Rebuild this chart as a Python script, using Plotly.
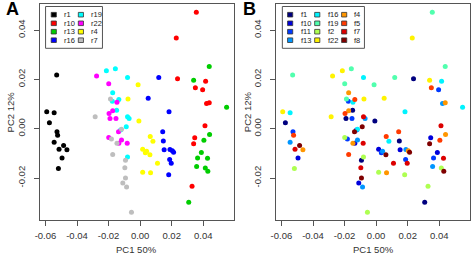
import plotly.graph_objects as go

# ---------------- data ----------------
regions = ["r1", "r10", "r13", "r16", "r19", "r22", "r4", "r7"]
region_colors = ["#000000", "#FF0000", "#00CD00", "#0000FF",
                 "#00FFFF", "#FF00FF", "#FFFF00", "#BEBEBE"]
fractions = ["f1", "f10", "f11", "f13", "f16", "f19", "f2", "f22", "f4", "f5", "f7", "f8"]
fraction_colors = ["#00007F", "#0000DC", "#003AFF", "#0096FF", "#00F3FF", "#51FFAE",
                   "#AEFF51", "#FFF300", "#FF9600", "#FF3A00", "#DC0000", "#7F0000"]

sample_region = (["r1"] * 12 + ["r22"] * 12 + ["r19"] * 12 + ["r7"] * 12 +
                 ["r4"] * 12 + ["r16"] * 12 + ["r10"] * 12 + ["r13"] * 12)

pc1 = [
    -0.0529, -0.0592, -0.0545, -0.0575, -0.0527, -0.0523, -0.0545, -0.0485, -0.0514, -0.0464, -0.0495, -0.0518,
    -0.0276, -0.0199, -0.0147, -0.0174, -0.0197, -0.0191, -0.0153, -0.0137, -0.0199, -0.0118, -0.0135, -0.0082,
    -0.0214, -0.0157, -0.0080, -0.0174, -0.0135, -0.0176, -0.0149, -0.0080, -0.0070, -0.0088, -0.0080, -0.0124,
    -0.0188, -0.0285, -0.0118, -0.0182, -0.0147, -0.0174, -0.0093, -0.0097, -0.0093, -0.0110, -0.0086, -0.0055,
    -0.0013, -0.0077, -0.0008, 0.0064, 0.0081, 0.0016, 0.0041, 0.0033, 0.0062, 0.0110, 0.0016, 0.0066,
    0.0118, 0.0051, 0.0183, 0.0143, 0.0147, 0.0152, 0.0189, 0.0204, 0.0212, 0.0187, 0.0197, 0.0181,
    0.0356, 0.0229, 0.0237, 0.0415, 0.0350, 0.0396, 0.0421, 0.0438, 0.0411, 0.0346, 0.0339, 0.0329,
    0.0438, 0.0339, 0.0548, 0.0440, 0.0404, 0.0388, 0.0364, 0.0427, 0.0358, 0.0413, 0.0429, 0.0308,
]
pc2 = [
    0.0218, 0.0069, 0.0065, 0.0024, -0.0012, -0.0026, -0.0055, -0.0068, -0.0083, -0.0085, -0.0119, -0.0161,
    0.0214, 0.0183, 0.0108, 0.0073, 0.0062, 0.0042, 0.0042, -0.0012, -0.0035, -0.0046, -0.0059, -0.0059,
    0.0235, 0.0243, 0.0208, 0.0146, 0.0119, 0.0112, 0.0075, 0.0049, 0.0042, 0.0008, -0.0115, -0.0005,
    0.0121, 0.0049, -0.0002, -0.0042, -0.0059, -0.0104, -0.0128, -0.0158, -0.0200, -0.0220, -0.0236, -0.0339,
    0.0179, 0.0121, 0.0032, -0.0031, -0.0051, -0.0083, -0.0091, -0.0097, -0.0105, -0.0140, -0.0176, -0.0178,
    0.0208, 0.0124, 0.0069, -0.0012, -0.0050, -0.0085, -0.0084, -0.0089, -0.0095, -0.0125, -0.0140, -0.0186,
    0.0473, 0.0368, 0.0203, 0.0193, 0.0166, 0.0158, 0.0102, 0.0106, 0.0012, -0.0036, -0.0061, -0.0233,
    0.0253, 0.0197, 0.0087, -0.0023, -0.0047, -0.0096, -0.0119, -0.0120, -0.0153, -0.0159, -0.0172, -0.0298,
]
sample_fraction = [
    "f19", "f22", "f16", "f1", "f11", "f5", "f13", "f8", "f7", "f4", "f10", "f2",
    "f22", "f19", "f16", "f4", "f5", "f1", "f11", "f8", "f2", "f13", "f10", "f7",
    "f22", "f19", "f16", "f4", "f5", "f11", "f1", "f7", "f13", "f8", "f2", "f10",
    "f19", "f22", "f16", "f11", "f4", "f5", "f1", "f7", "f8", "f10", "f13", "f2",
    "f19", "f22", "f1", "f5", "f16", "f10", "f13", "f11", "f8", "f7", "f2", "f4",
    "f19", "f22", "f16", "f5", "f1", "f10", "f13", "f4", "f8", "f11", "f7", "f2",
    "f19", "f22", "f1", "f16", "f5", "f11", "f13", "f4", "f7", "f10", "f8", "f2",
    "f19", "f22", "f16", "f4", "f5", "f10", "f11", "f7", "f13", "f2", "f8", "f1",
]

x_ticks = [-0.06, -0.04, -0.02, 0.00, 0.02, 0.04]
x_ticktext = ["-0.06", "-0.04", "-0.02", "0.00", "0.02", "0.04"]
y_ticks = [-0.02, 0.00, 0.02, 0.04]
y_ticktext = ["-0.02", "0.00", "0.02", "0.04"]
x_title = "PC1 50%"
y_title = "PC2 12%"

# ---------------- layout helpers ----------------
W, H = 472, 255
FONT = "Liberation Sans, Arial, Helvetica, sans-serif"


def px(x):
    return x / W


def py(y):
    return 1 - y / H


fig = go.Figure()

# Panel A: coloured by region
for r, c in zip(regions, region_colors):
    idx = [i for i, s in enumerate(sample_region) if s == r]
    fig.add_trace(go.Scatter(
        x=[pc1[i] for i in idx], y=[pc2[i] for i in idx], mode="markers",
        marker=dict(color=c, size=5, line=dict(width=0)),
        name=r, xaxis="x", yaxis="y", showlegend=False, hoverinfo="skip"))

# Panel B: coloured by fraction
for f, c in zip(fractions, fraction_colors):
    idx = [i for i, s in enumerate(sample_fraction) if s == f]
    fig.add_trace(go.Scatter(
        x=[pc1[i] for i in idx], y=[pc2[i] for i in idx], mode="markers",
        marker=dict(color=c, size=5, line=dict(width=0)),
        name=f, xaxis="x2", yaxis="y2", showlegend=False, hoverinfo="skip"))

xr = [-0.0637, 0.0592]
yr = [-0.0370, 0.0506]
ydom = [py(220), py(4)]
axis_common = dict(showgrid=False, zeroline=False, showline=True, mirror=True,
                   linecolor="#555", linewidth=1, ticks="outside", ticklen=5,
                   tickcolor="#555", tickwidth=1,
                   tickfont=dict(family=FONT, size=9.5, color="#333"))

fig.update_layout(
    width=W, height=H, margin=dict(l=0, r=0, t=0, b=0),
    paper_bgcolor="white", plot_bgcolor="white",
    xaxis=dict(domain=[px(35), px(231)], range=xr, tickvals=x_ticks, ticktext=x_ticktext,
               anchor="y", ticklabelstandoff=2, **axis_common),
    yaxis=dict(domain=ydom, range=yr, tickvals=y_ticks, ticktext=y_ticktext,
               tickangle=-90, anchor="x", ticklabelstandoff=5, **axis_common),
    xaxis2=dict(domain=[px(273.5), px(469.5)], range=xr, tickvals=x_ticks, ticktext=x_ticktext,
                anchor="y2", ticklabelstandoff=2, **axis_common),
    yaxis2=dict(domain=ydom, range=yr, tickvals=y_ticks, ticktext=y_ticktext,
                tickangle=-90, anchor="x2", ticklabelstandoff=5, **axis_common),
)

shapes = []
annotations = []

for left, letter in [(0, "A"), (239.3, "B")]:
    # panel letter
    annotations.append(dict(x=px(left + 7.5), y=py(9.5), xref="paper", yref="paper",
                            text="<b>%s</b>" % letter, showarrow=False,
                            font=dict(family=FONT, size=18, color="black"),
                            xanchor="center", yanchor="middle"))
    # axis titles
    annotations.append(dict(x=px(left + 133), y=py(249), xref="paper", yref="paper",
                            text=x_title, showarrow=False,
                            font=dict(family=FONT, size=9.5, color="#333"),
                            xanchor="center", yanchor="middle"))
    annotations.append(dict(x=px(left + 5.5), y=py(112), xref="paper", yref="paper",
                            text=y_title, showarrow=False, textangle=-90,
                            font=dict(family=FONT, size=9.5, color="#333"),
                            xanchor="center", yanchor="middle"))


def add_legend(labels, colors, box, col_sw_x, col_tx_x, rows_y):
    x0, y0, x1, y1 = box
    shapes.append(dict(type="rect", xref="paper", yref="paper",
                       x0=px(x0), x1=px(x1), y0=py(y1), y1=py(y0),
                       line=dict(color="#555", width=1), fillcolor="white"))
    n_rows = len(rows_y)
    for k, (lab, col) in enumerate(zip(labels, colors)):
        c, r = divmod(k, n_rows)
        sx, ty = col_sw_x[c], rows_y[r]
        shapes.append(dict(type="rect", xref="paper", yref="paper",
                           x0=px(sx - 2.6), x1=px(sx + 2.6), y0=py(ty + 2.3), y1=py(ty - 2.3),
                           line=dict(color="#333", width=0.8), fillcolor=col))
        annotations.append(dict(x=px(col_tx_x[c]), y=py(ty), xref="paper", yref="paper",
                                text=lab, showarrow=False, xanchor="left", yanchor="middle",
                                font=dict(family=FONT, size=7.5, color="#222")))


rows = [14.7, 23.3, 31.7, 40.2]
add_legend(regions, region_colors, (41, 6.5, 98.5, 48.3), [49.3, 76.7], [57.5, 84.5], rows)
add_legend(fractions, fraction_colors, (280.3, 6.5, 363.3, 48.3),
           [288.2, 315.6, 342.8], [297.5, 324.5, 350.5], rows)

fig.update_layout(shapes=shapes, annotations=annotations)
fig.write_html("out.html", config={"displayModeBar": False},
               post_script="document.body.style.margin='0';document.body.style.overflow='hidden';")
